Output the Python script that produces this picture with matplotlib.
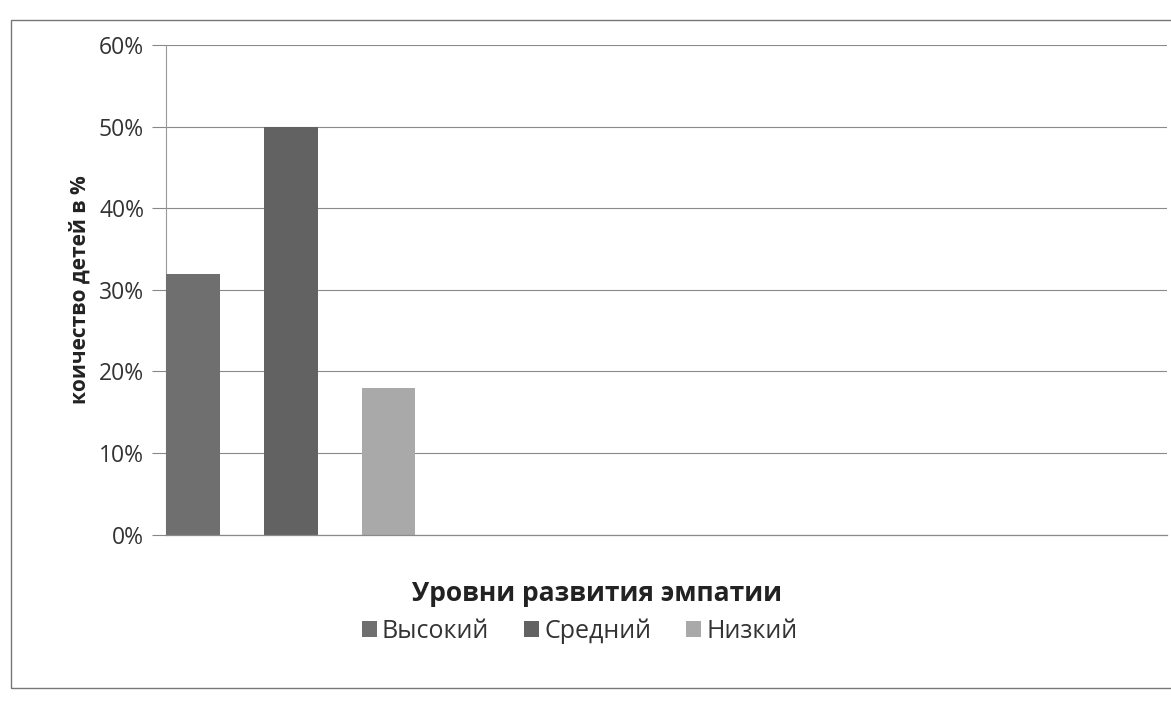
import matplotlib.pyplot as plt
from matplotlib.patches import Rectangle
from matplotlib.ticker import PercentFormatter

plt.rcParams['font.family'] = ['Open Sans', 'DejaVu Sans']

levels = ['Высокий', 'Средний', 'Низкий']
percent = [32, 50, 18]
colors = ['#6f6f6f', '#626262', '#a9a9a9']
yticks = [0, 10, 20, 30, 40, 50, 60]

fig = plt.figure(figsize=(11.71, 7.13), dpi=100)
ax = fig.add_axes([0.142, 0.25, 0.855, 0.687])

width = 0.55
for i, (name, val, c) in enumerate(zip(levels, percent, colors)):
    ax.bar(i, val, width=width, color=c, label=name, zorder=3)

ax.set_ylim(0, 60)
ax.set_xlim(-width / 2, 9.98)
ax.set_yticks(yticks)
ax.yaxis.set_major_formatter(PercentFormatter(decimals=0))
ax.tick_params(axis='y', labelsize=16.5, labelcolor='#333333', length=10,
               width=0.8, color='#888888', pad=6)
ax.set_xticks([])
ax.grid(axis='y', color='#8a8a8a', linewidth=0.8, zorder=0)
ax.axhline(0, color='#8a8a8a', linewidth=0.9, zorder=4, clip_on=False)
for side in ['top', 'right', 'bottom']:
    ax.spines[side].set_visible(False)
ax.spines['left'].set_color('#999999')
ax.spines['left'].set_linewidth(0.8)
ax.set_ylabel('коичество детей в %', fontsize=15, fontweight='bold',
              color='#222222', labelpad=6)

fig.text(0.51, 0.168, 'Уровни развития эмпатии', ha='center', va='center',
         fontsize=19, fontweight='bold', color='#222222')
fig.legend(loc='center', bbox_to_anchor=(0.495, 0.115), ncol=3, frameon=False,
           fontsize=18, handlelength=0.6, handleheight=0.6, handletextpad=0.2,
           columnspacing=1.4, labelcolor='#333333')

# outer chart border
fig.patches.append(Rectangle((0.009, 0.035), 1.2, 0.937, transform=fig.transFigure,
                             fill=False, edgecolor='#777777', linewidth=1.0))

fig.savefig('out.png', dpi=100)
